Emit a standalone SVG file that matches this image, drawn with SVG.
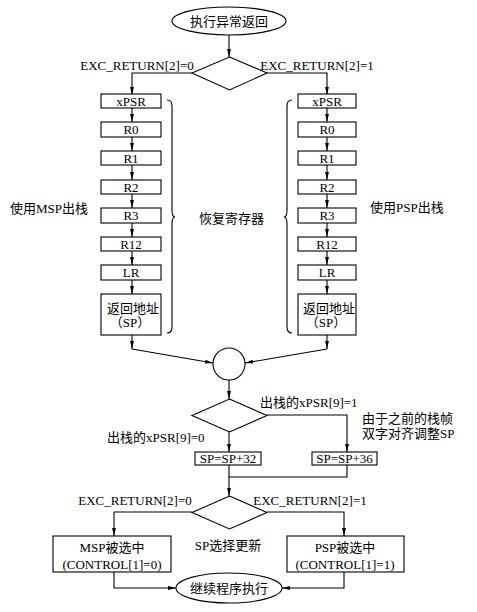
<svg xmlns="http://www.w3.org/2000/svg" width="477" height="612" viewBox="0 0 477 612">
<style>
.s{fill:none;stroke:#000;stroke-width:1.1}
.b{fill:#fff;stroke:#000;stroke-width:1.1}
text{font-family:"Liberation Serif","Noto Sans CJK SC",serif;font-size:13px;fill:#000}
.m{text-anchor:middle}
.c line,.c path,.c polyline{fill:none;stroke:#000;stroke-width:1.1}
</style>
<defs>
<marker id="a" viewBox="0 0 10 10" refX="10" refY="5" markerWidth="8" markerHeight="8" orient="auto" markerUnits="userSpaceOnUse"><path d="M0,2.6 L10,5 L0,7.4 z" fill="#000"/></marker>
</defs>
<rect width="477" height="612" fill="#fff"/>

<g class="c" id="connectors">
<line x1="229" y1="35" x2="229" y2="57" marker-end="url(#a)"/>
<polyline points="192,73 132,73 132,95" marker-end="url(#a)"/>
<polyline points="267,73 327,73 327,95" marker-end="url(#a)"/>
<line x1="132" y1="108" x2="132" y2="122" marker-end="url(#a)"/>
<line x1="132" y1="137" x2="132" y2="151" marker-end="url(#a)"/>
<line x1="132" y1="165" x2="132" y2="180" marker-end="url(#a)"/>
<line x1="132" y1="194" x2="132" y2="208" marker-end="url(#a)"/>
<line x1="132" y1="223" x2="132" y2="237" marker-end="url(#a)"/>
<line x1="132" y1="251" x2="132" y2="265" marker-end="url(#a)"/>
<line x1="132" y1="280" x2="132" y2="294" marker-end="url(#a)"/>
<line x1="327" y1="108" x2="327" y2="122" marker-end="url(#a)"/>
<line x1="327" y1="137" x2="327" y2="151" marker-end="url(#a)"/>
<line x1="327" y1="165" x2="327" y2="180" marker-end="url(#a)"/>
<line x1="327" y1="194" x2="327" y2="208" marker-end="url(#a)"/>
<line x1="327" y1="223" x2="327" y2="237" marker-end="url(#a)"/>
<line x1="327" y1="251" x2="327" y2="265" marker-end="url(#a)"/>
<line x1="327" y1="280" x2="327" y2="294" marker-end="url(#a)"/>
<line x1="132" y1="335" x2="132" y2="349" marker-end="url(#a)"/>
<line x1="327" y1="335" x2="327" y2="349" marker-end="url(#a)"/>
<line x1="132" y1="349" x2="213" y2="363" marker-end="url(#a)"/>
<line x1="327" y1="349" x2="245" y2="363" marker-end="url(#a)"/>
<line x1="229" y1="380" x2="229" y2="399" marker-end="url(#a)"/>
<polyline points="267,415 347,415 347,452" marker-end="url(#a)"/>
<line x1="229" y1="432" x2="229" y2="452" marker-end="url(#a)"/>
<polyline points="229,465 229,477 347,477 347,465"/>
<line x1="229" y1="477" x2="229" y2="496" marker-end="url(#a)"/>
<polyline points="192,512 114,512 114,536" marker-end="url(#a)"/>
<polyline points="267,512 344,512 344,536" marker-end="url(#a)"/>
<polyline points="114,572 114,588 176,588" marker-end="url(#a)"/>
<polyline points="344,572 344,588 282,588" marker-end="url(#a)"/>
</g>

<g id="start"><ellipse class="b" cx="229" cy="21" rx="57" ry="14"/><text class="m" x="229" y="26">执行异常返回</text></g>
<g id="d1"><polygon class="b" points="229.5,57 267,73 229.5,90 192,73"/></g>
<text class="m" x="137" y="70">EXC_RETURN[2]=0</text>
<text class="m" x="317" y="70">EXC_RETURN[2]=1</text>

<g id="l-xpsr"><rect class="b" x="101" y="94" width="60" height="14"/><text class="m" x="131" y="105.5">xPSR</text></g>
<g id="l-r0"><rect class="b" x="101" y="122" width="60" height="15"/><text class="m" x="131" y="134">R0</text></g>
<g id="l-r1"><rect class="b" x="101" y="151" width="60" height="14"/><text class="m" x="131" y="162.5">R1</text></g>
<g id="l-r2"><rect class="b" x="101" y="180" width="60" height="14"/><text class="m" x="131" y="191.5">R2</text></g>
<g id="l-r3"><rect class="b" x="101" y="208" width="60" height="15"/><text class="m" x="131" y="220">R3</text></g>
<g id="l-r12"><rect class="b" x="101" y="237" width="60" height="14"/><text class="m" x="131" y="248.5">R12</text></g>
<g id="l-lr"><rect class="b" x="101" y="265" width="60" height="15"/><text class="m" x="131" y="277">LR</text></g>
<g id="l-sp"><rect class="b" x="101" y="294" width="60" height="41"/><text class="m" x="133" y="312.5">返回地址</text><text class="m" x="130" y="326.5">（SP）</text></g>

<g id="r-xpsr"><rect class="b" x="298" y="94" width="58" height="14"/><text class="m" x="327" y="105.5">xPSR</text></g>
<g id="r-r0"><rect class="b" x="298" y="122" width="58" height="15"/><text class="m" x="327" y="134">R0</text></g>
<g id="r-r1"><rect class="b" x="298" y="151" width="58" height="14"/><text class="m" x="327" y="162.5">R1</text></g>
<g id="r-r2"><rect class="b" x="298" y="180" width="58" height="14"/><text class="m" x="327" y="191.5">R2</text></g>
<g id="r-r3"><rect class="b" x="298" y="208" width="58" height="15"/><text class="m" x="327" y="220">R3</text></g>
<g id="r-r12"><rect class="b" x="298" y="237" width="58" height="14"/><text class="m" x="327" y="248.5">R12</text></g>
<g id="r-lr"><rect class="b" x="298" y="265" width="58" height="15"/><text class="m" x="327" y="277">LR</text></g>
<g id="r-sp"><rect class="b" x="298" y="294" width="58" height="41"/><text class="m" x="329" y="312.5">返回地址</text><text class="m" x="326" y="326.5">（SP）</text></g>

<g id="braces">
<path class="s" d="M167,100 Q172,100 172,106 L172,210 Q172,217 175,217 Q172,217 172,224 L172,327 Q172,333 167,333"/>
<path class="s" d="M292,100 Q287,100 287,106 L287,210 Q287,217 284,217 Q287,217 287,224 L287,327 Q287,333 292,333"/>
</g>
<text x="10" y="213">使用MSP出栈</text>
<text x="199" y="223">恢复寄存器</text>
<text x="370" y="212">使用PSP出栈</text>

<g id="merge"><circle class="b" cx="229" cy="364" r="16"/></g>
<g id="d2"><polygon class="b" points="229.5,399 267,415.5 229.5,432 192,415.5"/></g>
<text x="260" y="407">出栈的xPSR[9]=1</text>
<text x="107" y="442">出栈的xPSR[9]=0</text>
<text x="362" y="423">由于之前的栈帧</text>
<text x="362" y="438">双字对齐调整SP</text>
<g id="sp32"><rect class="b" x="195" y="452" width="66" height="13"/><text class="m" x="228" y="463">SP=SP+32</text></g>
<g id="sp36"><rect class="b" x="312" y="452" width="65" height="13"/><text class="m" x="344.5" y="463">SP=SP+36</text></g>

<g id="d3"><polygon class="b" points="229.5,496 267,512.5 229.5,529 192,512.5"/></g>
<text class="m" x="135" y="505">EXC_RETURN[2]=0</text>
<text class="m" x="310" y="505">EXC_RETURN[2]=1</text>
<text class="m" x="228" y="550">SP选择更新</text>
<g id="msp"><rect class="b" x="53" y="536" width="118" height="36"/><text class="m" x="112" y="552">MSP被选中</text><text class="m" x="112" y="569">(CONTROL[1]=0)</text></g>
<g id="psp"><rect class="b" x="287" y="536" width="117" height="36"/><text class="m" x="345" y="552">PSP被选中</text><text class="m" x="345" y="569">(CONTROL[1]=1)</text></g>
<g id="end"><ellipse class="b" cx="229" cy="588" rx="53" ry="15"/><text class="m" x="229" y="593">继续程序执行</text></g>
</svg>
